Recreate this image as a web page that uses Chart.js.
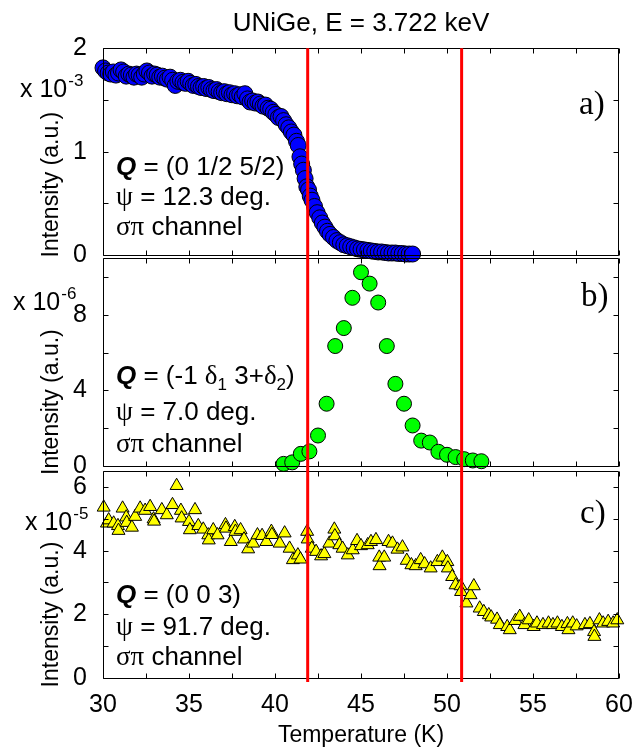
<!DOCTYPE html>
<html>
<head>
<meta charset="utf-8">
<script src="https://cdn.jsdelivr.net/npm/chart.js@4.4.1/dist/chart.umd.min.js"></script>
<style>
  body { margin: 0; background: #fff; }
  canvas { display: block; }
</style>
</head>
<body>
<canvas id="chart" width="633" height="753"></canvas>
<script>
// ---- data ----
// panel a) Q = (0 1/2 5/2), intensity in units of 1e-3
var tempA = [30.0, 30.15, 30.3, 30.45, 30.6, 30.75, 30.9, 31.05, 31.2, 31.35, 31.5, 31.65, 31.8, 31.95,
  32.1, 32.25, 32.4, 32.55, 32.7, 32.85, 33.0, 33.15, 33.3, 33.45, 33.6, 33.75, 33.9, 34.05, 34.2,
  34.35, 34.5, 34.65, 34.8, 34.95, 35.1, 35.25, 35.4, 35.55, 35.7, 35.85, 36.0, 36.15, 36.3, 36.45,
  36.6, 36.75, 36.9, 37.05, 37.2, 37.35, 37.5, 37.65, 37.8, 37.95, 38.1, 38.25, 38.4, 38.55, 38.7,
  38.85, 39.0, 39.15, 39.3, 39.45, 39.6, 39.75, 39.9, 40.05, 40.2, 40.35, 40.5, 40.65, 40.8, 40.95,
  41.1, 41.25, 41.35, 41.45, 41.55, 41.65, 41.75, 41.85, 41.95, 42.05, 42.15, 42.3, 42.45, 42.6,
  42.75, 42.9, 43.05, 43.2, 43.4, 43.6, 43.8, 44.0, 44.2, 44.4, 44.6, 44.8, 45.0, 45.2, 45.4, 45.6,
  45.8, 46.0, 46.2, 46.4, 46.6, 46.8, 47.0, 47.2, 47.4, 47.6, 47.8, 48.0];
var intA = [1.81, 1.78, 1.76, 1.75, 1.77, 1.74, 1.76, 1.79, 1.77, 1.73, 1.75, 1.74, 1.72, 1.75,
  1.74, 1.72, 1.75, 1.78, 1.76, 1.73, 1.75, 1.74, 1.72, 1.73, 1.71, 1.70, 1.72, 1.69, 1.64,
  1.68, 1.69, 1.67, 1.66, 1.68, 1.66, 1.64, 1.65, 1.63, 1.62, 1.63, 1.61, 1.62, 1.60, 1.59,
  1.60, 1.58, 1.57, 1.58, 1.56, 1.57, 1.55, 1.56, 1.54, 1.55, 1.53, 1.56, 1.51, 1.48, 1.49,
  1.47, 1.48, 1.46, 1.44, 1.45, 1.42, 1.41, 1.38, 1.36, 1.33, 1.34, 1.30, 1.26, 1.23, 1.19,
  1.16, 1.10, 1.06, 0.95, 0.88, 0.82, 0.74, 0.66, 0.63, 0.57, 0.53, 0.47, 0.41, 0.36,
  0.31, 0.27, 0.23, 0.20, 0.17, 0.14, 0.12, 0.10, 0.09, 0.08, 0.07, 0.06, 0.055, 0.05, 0.045, 0.04,
  0.035, 0.03, 0.03, 0.025, 0.02, 0.02, 0.02, 0.015, 0.015, 0.01, 0.01, 0.01];

// panel b) Q = (-1 d1 3+d2), intensity in units of 1e-6
var tempB = [40.5, 41.0, 41.5, 42.0, 42.5, 43.0, 43.5, 44.0, 44.5, 45.0, 45.5, 46.0, 46.5, 47.0,
  47.5, 48.0, 48.5, 49.0, 49.5, 50.0, 50.5, 51.0, 51.5, 52.0];
var intB = [0.12, 0.2, 0.65, 0.78, 1.62, 3.3, 6.35, 7.3, 8.9, 10.25, 9.65, 8.65, 6.35, 4.35,
  3.3, 2.15, 1.35, 1.25, 0.76, 0.6, 0.48, 0.37, 0.3, 0.26];

// panel c) Q = (0 0 3), intensity in units of 1e-5
var tempC = [30.04, 30.23, 30.33, 30.62, 30.87, 30.9, 31.14, 31.35, 31.38, 31.68, 31.87, 32.16, 32.45,
  32.74, 32.94, 32.97, 33.42, 33.71, 34.04, 34.28, 34.53, 34.57, 35.0, 35.05, 35.35, 35.54, 35.83,
  36.12, 36.15, 36.41, 36.66, 37.12, 37.15, 37.43, 37.66, 37.7, 38.0, 38.2, 38.44, 38.73, 38.98,
  39.25, 39.5, 39.79, 39.82, 40.27, 40.56, 40.85, 41.04, 41.33, 41.48, 41.87, 41.9, 42.14, 42.39,
  42.68, 42.87, 43.16, 43.45, 43.48, 43.74, 43.93, 44.23, 44.52, 44.77, 45.0, 45.39, 45.58, 45.87,
  46.06, 46.08, 46.35, 46.6, 46.83, 47.12, 47.41, 47.66, 47.93, 48.18, 48.47, 48.7, 49.05, 49.44,
  49.73, 50.02, 50.05, 50.3, 50.5, 50.79, 50.82, 51.13, 51.37, 51.56, 51.9, 52.14, 52.43, 52.57,
  52.91, 53.07, 53.5, 53.65, 53.98, 54.23, 54.5, 54.75, 55.04, 55.23, 55.58, 55.9, 56.16, 56.42,
  56.68, 57.0, 57.06, 57.31, 57.54, 58.02, 58.31, 58.55, 58.57, 58.86, 59.08, 59.37, 59.66, 59.9];
var intC = [5.36, 4.86, 4.96, 4.86, 4.78, 4.63, 5.33, 5.05, 4.88, 4.73, 5.07, 5.33, 5.26,
  5.38, 4.99, 4.92, 5.28, 5.12, 5.44, 6.04, 5.26, 5.02, 4.91, 4.65, 5.28, 4.78, 4.67,
  4.49, 4.33, 4.65, 4.49, 4.81, 4.70, 4.28, 4.75, 4.60, 4.65, 4.36, 4.05, 4.23, 4.49,
  4.47, 4.28, 4.60, 4.50, 4.23, 4.55, 4.07, 3.71, 3.86, 3.73, 4.60, 4.36, 4.07, 3.97,
  3.83, 3.90, 4.23, 4.67, 4.46, 4.18, 4.07, 3.86, 4.02, 4.31, 4.15, 4.18, 4.28, 4.34,
  3.79, 3.52, 3.79, 4.28, 4.23, 4.04, 4.11, 3.69, 3.55, 3.52, 3.71, 3.58, 3.45, 3.65,
  3.79, 3.65, 3.45, 3.18, 2.92, 2.89, 2.71, 2.35, 2.61, 2.89, 2.19, 2.08, 1.98, 1.91,
  1.84, 1.67, 1.61, 1.51, 1.80, 1.93, 1.67, 1.82, 1.61, 1.72, 1.67, 1.72, 1.67, 1.72,
  1.61, 1.70, 1.51, 1.72, 1.63, 1.67, 1.70, 1.45, 1.30, 1.82, 1.72, 1.77, 1.72, 1.82];

// transition temperatures (red lines)
var transitions = [41.9, 50.85];

// axis ranges / ticks
var xMin = 30, xMax = 60, xStep = 2.5, xLabelEvery = 5;
var panelIds = ['ya', 'yb', 'yc'];
var yMin = [-0.02, -0.26, 0];
var yMax = [2, 11.05, 6.5];
var yTop = [2, 11, 6.5];
var yStep = [0.5, 2, 1];
var yLabelEvery = [1, 4, 2];
var yWeight = [209, 214, 207];
var yExponent = ['-3', '-6', '-5'];
var panelLetters = ['a)', 'b)', 'c)'];
var chartTitle = 'UNiGe, E = 3.722 keV';
var xTitle = 'Temperature (K)';
var yTitle = 'Intensity (a.u.)';

var SANS = "Arial, 'Liberation Sans', Helvetica, sans-serif";
var SERIF = "'Times New Roman', 'Liberation Serif', serif";
var F = '26px ' + SANS, FQ = 'italic bold 26px ' + SANS, FG = '27px ' + SERIF, FS = '17px ' + SANS;

// annotation lines per panel: [text, font, baseline shift]
var notes = [
  [[['Q', FQ, 0], [' = (0 1/2 5/2)', F, 0]],
   [['\u03C8', FG, 0], [' = 12.3 deg.', F, 0]],
   [['\u03C3\u03C0', FG, 0], [' channel', F, 0]]],
  [[['Q', FQ, 0], [' = (-1 ', F, 0], ['\u03B4', FG, 0], ['1', FS, 6], [' 3+', F, 0], ['\u03B4', FG, 0], ['2', FS, 6], [')', F, 0]],
   [['\u03C8', FG, 0], [' = 7.0 deg.', F, 0]],
   [['\u03C3\u03C0', FG, 0], [' channel', F, 0]]],
  [[['Q', FQ, 0], [' = (0 0 3)', F, 0]],
   [['\u03C8', FG, 0], [' = 91.7 deg.', F, 0]],
   [['\u03C3\u03C0', FG, 0], [' channel', F, 0]]]
];
// layout of the free texts, relative to each panel's top
var noteX = 116, noteBase = [[127, 157, 187], [126, 162, 194], [132, 164, 194]];
var expPos = [[20, 49], [13, 52], [25, 59]];
var letterPos = [[579, 66], [581, 48], [580, 52]];
var yTitleShift = [33, 40, 40];

function toPoints(xs, ys) {
  return xs.map(function(x, i) { return {x: x, y: ys[i]}; });
}

function drawRich(ctx, segs, x, y) {
  segs.forEach(function(s) {
    ctx.font = s[1];
    ctx.fillText(s[0], x, y + s[2]);
    x += ctx.measureText(s[0]).width;
  });
}

var decorPlugin = {
  id: 'decor',
  afterDatasetsDraw: function(chart) {
    var ctx = chart.ctx, xs = chart.scales.x, area = chart.chartArea;
    var left = area.left, right = area.right;
    ctx.save();
    ctx.strokeStyle = '#000';
    ctx.lineWidth = 1;
    ctx.fillStyle = '#000';
    ctx.textBaseline = 'alphabetic';
    ctx.textAlign = 'left';
    panelIds.forEach(function(id, k) {
      var ys = chart.scales[id];
      var top = Math.round(ys.getPixelForValue(yTop[k])) + 0.5;
      var bot = Math.round(ys.getPixelForValue(0)) + 0.5;
      var l = Math.round(left) + 0.5, r = Math.round(right) - 0.5;
      ctx.beginPath();
      ctx.rect(l, top, r - l, bot - top);
      xs.ticks.forEach(function(t) {
        var px = Math.round(xs.getPixelForValue(t.value)) + 0.5;
        ctx.moveTo(px, top); ctx.lineTo(px, top + 5);
        ctx.moveTo(px, bot); ctx.lineTo(px, bot - 5);
      });
      ys.ticks.forEach(function(t) {
        if (t.value < 0 || t.value > yTop[k]) return;
        var py = Math.round(ys.getPixelForValue(t.value)) + 0.5;
        ctx.moveTo(l, py); ctx.lineTo(l + 5, py);
        ctx.moveTo(r, py); ctx.lineTo(r - 5, py);
      });
      ctx.stroke();

      var ptop = ys.getPixelForValue(yTop[k]);
      var pbot = ys.getPixelForValue(0);
      // annotations
      notes[k].forEach(function(line, j) {
        drawRich(ctx, line, noteX, ptop + noteBase[k][j]);
      });
      // exponent label
      ctx.font = '25px ' + SANS;
      ctx.fillText('x 10', expPos[k][0], ptop + expPos[k][1]);
      var w = ctx.measureText('x 10').width;
      ctx.font = '17px ' + SANS;
      ctx.fillText(yExponent[k], expPos[k][0] + w + 1, ptop + expPos[k][1] - 11);
      // panel letter
      ctx.font = '33px ' + SERIF;
      ctx.fillText(panelLetters[k], letterPos[k][0], ptop + letterPos[k][1]);
      // y title
      ctx.save();
      ctx.translate(52, (ptop + pbot) / 2 + yTitleShift[k]);
      ctx.rotate(-Math.PI / 2);
      ctx.textAlign = 'center';
      ctx.textBaseline = 'middle';
      ctx.font = '23px ' + SANS;
      ctx.fillText(yTitle, 0, 0);
      ctx.restore();
    });
    // transition lines
    ctx.strokeStyle = '#ff0000';
    ctx.lineWidth = 3;
    transitions.forEach(function(T) {
      var px = xs.getPixelForValue(T);
      ctx.beginPath();
      ctx.moveTo(px, area.top);
      ctx.lineTo(px, area.bottom + 4);
      ctx.stroke();
    });
    ctx.restore();
  }
};

function yScale(k) {
  return {
    type: 'linear',
    position: 'left',
    stack: 'panels',
    stackWeight: yWeight[k],
    min: yMin[k],
    max: yMax[k],
    grid: { display: false },
    border: { display: false },
    afterFit: function(s) { s.width = 103; },
    ticks: {
      stepSize: yStep[k],
      includeBounds: false,
      autoSkip: false,
      padding: 8,
      color: '#000',
      font: { family: SANS, size: 25 },
      callback: function(v) {
        if (v < 0) return '';
        var r = v / yLabelEvery[k];
        return Math.abs(r - Math.round(r)) < 1e-6 ? String(v) : '';
      }
    }
  };
}

new Chart(document.getElementById('chart'), {
  type: 'scatter',
  data: {
    datasets: [{
      data: toPoints(tempA, intA),
      yAxisID: 'ya',
      pointStyle: 'circle',
      pointRadius: 8,
      backgroundColor: '#0000ff',
      borderColor: '#000',
      borderWidth: 1,
      clip: false
    }, {
      data: toPoints(tempB, intB),
      yAxisID: 'yb',
      pointStyle: 'circle',
      pointRadius: 7.5,
      backgroundColor: '#00ff00',
      borderColor: '#000',
      borderWidth: 1,
      clip: false
    }, {
      data: toPoints(tempC, intC),
      yAxisID: 'yc',
      pointStyle: 'triangle',
      pointRadius: 7.5,
      backgroundColor: '#ffff00',
      borderColor: '#000',
      borderWidth: 1,
      clip: false
    }]
  },
  options: {
    responsive: false,
    animation: false,
    events: [],
    layout: { padding: { left: 0, right: 14, top: 0, bottom: 0 } },
    plugins: {
      legend: { display: false },
      tooltip: { enabled: false },
      title: {
        display: true,
        fullSize: false,
        text: chartTitle,
        color: '#000',
        font: { family: SANS, size: 26, weight: 'normal' },
        padding: { top: 8, bottom: 9 }
      }
    },
    scales: {
      x: {
        type: 'linear',
        position: 'bottom',
        min: xMin,
        max: xMax,
        grid: { display: false },
        border: { display: false },
        afterFit: function(s) {
          s.height = 75;
          s.paddingLeft = 0;
          s.paddingRight = 0;
        },
        ticks: {
          stepSize: xStep,
          autoSkip: false,
          maxRotation: 0,
          padding: 4,
          color: '#000',
          font: { family: SANS, size: 25 },
          callback: function(v) { return v % xLabelEvery === 0 ? String(v) : ''; }
        },
        title: {
          display: true,
          text: xTitle,
          color: '#000',
          font: { family: SANS, size: 23 },
          padding: { top: 0, bottom: 4 }
        }
      },
      yc: yScale(2),
      yb: yScale(1),
      ya: yScale(0)
    }
  },
  plugins: [decorPlugin]
});
</script>
</body>
</html>
